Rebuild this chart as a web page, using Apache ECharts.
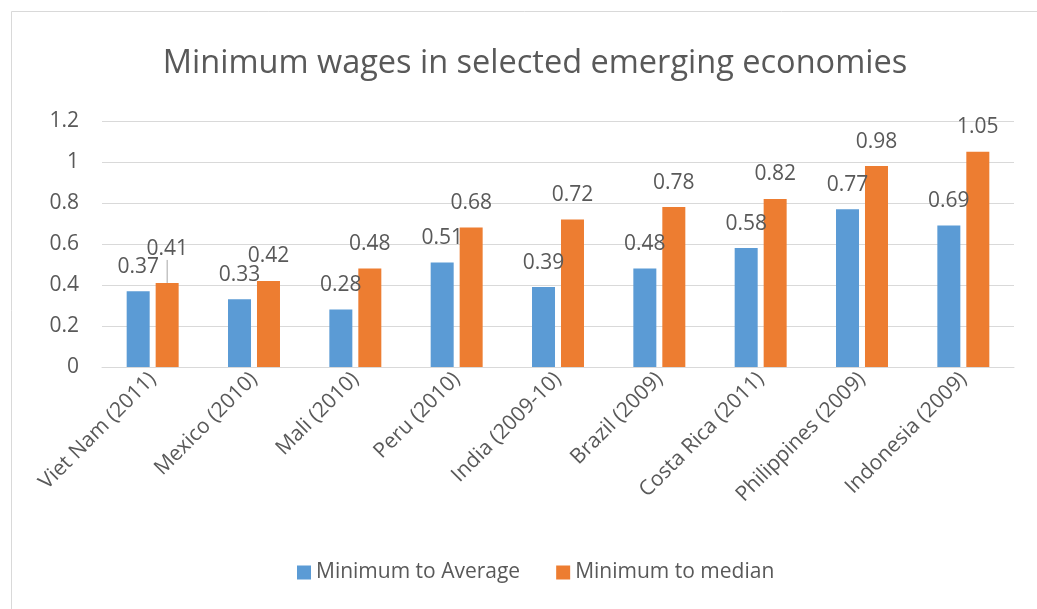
<!DOCTYPE html>
<html>
<head>
<meta charset="utf-8">
<script src="https://cdn.jsdelivr.net/npm/echarts@6/dist/echarts.min.js"></script>
<style>
  html, body { margin: 0; padding: 0; background: #fff; }
  #chart { width: 1037px; height: 609px; }
</style>
</head>
<body>
<div id="chart"></div>
<script>
// data
var categories = [
  "Viet Nam (2011)", "Mexico (2010)", "Mali (2010)", "Peru (2010)",
  "India (2009-10)", "Brazil (2009)", "Costa Rica (2011)",
  "Philippines (2009)", "Indonesia (2009)"
];
var minToAverage = [0.37, 0.33, 0.28, 0.51, 0.39, 0.48, 0.58, 0.77, 0.69];
var minToMedian = [0.41, 0.42, 0.48, 0.68, 0.72, 0.78, 0.82, 0.98, 1.05];
var seriesNames = ["Minimum to Average", "Minimum to median"];

var textColor = "#595959";
var font = "Open Sans";

var myChart = echarts.init(document.getElementById("chart"));

// the first orange label sits a bit higher, with a leader line
var medianData = minToMedian.map(function (v, i) {
  if (i === 0) {
    return { value: v, labelLine: { show: true } };
  }
  return v;
});

var labelStyle = {
  show: true,
  position: "top",
  distance: 14,
  color: textColor,
  fontFamily: font,
  fontSize: 21,
};

myChart.setOption({
  backgroundColor: "#fff",
  animation: false,
  textStyle: { fontFamily: font },
  graphic: [
    {
      type: "rect",
      shape: { x: 11.5, y: 11.5, width: 1100, height: 700 },
      style: { fill: "none", stroke: "#d9d9d9", lineWidth: 1 },
      silent: true,
    },
  ],
  title: {
    text: "Minimum wages in selected emerging economies",
    left: 530,
    textAlign: "center",
    top: 42,
    textStyle: {
      color: textColor,
      fontFamily: font,
      fontWeight: "normal",
      fontSize: 32.5,
    },
  },
  legend: {
    data: seriesNames,
    bottom: 21,
    left: 292,
    itemWidth: 14,
    itemHeight: 14,
    itemGap: 36,
    icon: "rect",
    textStyle: { color: textColor, fontFamily: font, fontSize: 21 },
  },
  grid: {
    left: 102,
    right: 23,
    top: 121,
    bottom: 242,
    containLabel: false,
    outerBoundsMode: "none",
  },
  xAxis: {
    type: "category",
    data: categories,
    axisLine: { lineStyle: { color: "#d9d9d9", width: 1 } },
    axisTick: { show: false },
    axisLabel: {
      rotate: 45,
      interval: 0,
      margin: 9,
      color: textColor,
      fontFamily: font,
      fontSize: 21,
    },
  },
  yAxis: {
    type: "value",
    min: 0,
    max: 1.2,
    interval: 0.2,
    axisLine: { show: false },
    axisTick: { show: false },
    splitLine: { lineStyle: { color: "#d9d9d9", width: 1 } },
    axisLabel: {
      margin: 23,
      color: textColor,
      fontFamily: font,
      fontSize: 21,
      formatter: function (v) {
        return String(Math.round(v * 10) / 10);
      },
    },
  },
  series: [
    {
      name: seriesNames[0],
      type: "bar",
      data: minToAverage,
      color: "#5b9bd5",
      barWidth: 23,
      barGap: "26%",
      label: labelStyle,
    },
    {
      name: seriesNames[1],
      type: "bar",
      data: medianData,
      color: "#ed7d31",
      barWidth: 23,
      label: labelStyle,
      labelLine: { show: false, lineStyle: { color: "#a6a6a6", width: 1 } },
      labelLayout: function (params) {
        if (params.dataIndex === 0) {
          return { dy: -9 };
        }
        return {};
      },
    },
  ],
});
</script>
</body>
</html>
